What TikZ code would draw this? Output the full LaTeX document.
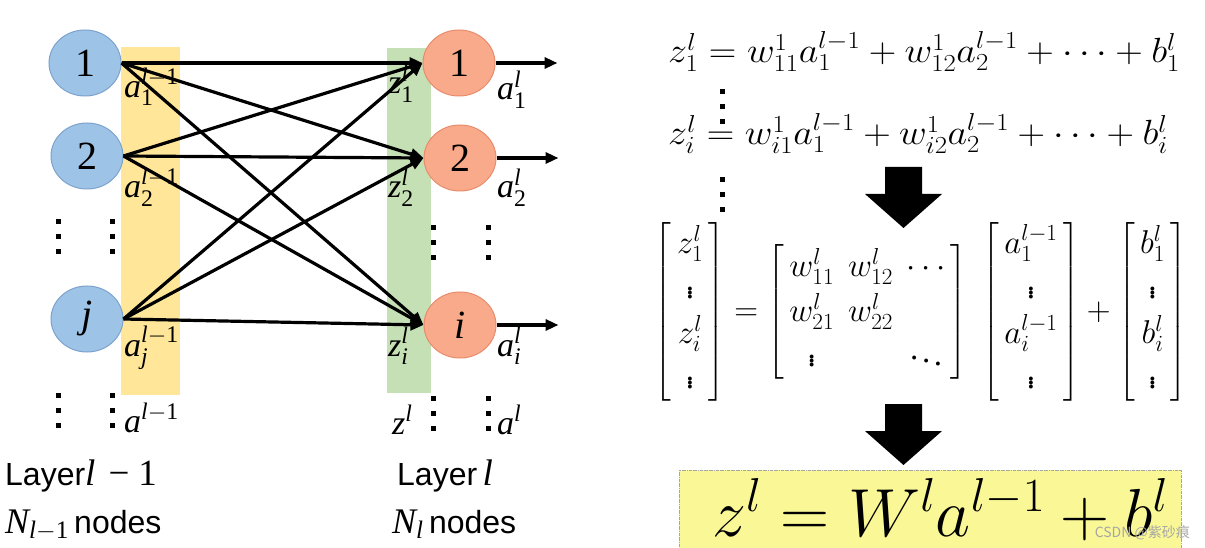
\RequirePackage{fix-cm}
\documentclass[tikz,border=0pt]{standalone}
\usepackage{amsmath}
\usepackage{graphicx}
\usepackage[no-math]{fontspec}
\setmainfont{Liberation Serif}
\setsansfont{Liberation Sans}
\newfontfamily\cjkfont{Noto Sans CJK SC}
\usetikzlibrary{shapes.geometric,arrows.meta,positioning}

\definecolor{bluefill}{RGB}{157,195,230}
\definecolor{blueedge}{RGB}{125,162,205}
\definecolor{orangefill}{RGB}{248,170,138}
\definecolor{orangeedge}{RGB}{232,140,108}
\definecolor{bandyellow}{RGB}{255,230,153}
\definecolor{bandgreen}{RGB}{197,224,180}
\definecolor{boxyellow}{RGB}{250,248,150}

\newcommand{\tv}[3]{$\textit{#1}^{\textit{l}#3}_{#2}$}
\newcommand{\wide}[1]{\scalebox{1.09}[1]{#1}}
\newcommand{\bvec}[1]{\left[\,\begin{matrix}#1\end{matrix}\,\right]}

\begin{document}
\begin{tikzpicture}[x=1pt,y=-1pt,
    inbox/.style={ellipse,draw=blueedge,fill=bluefill,line width=1pt,
      minimum width=72pt,minimum height=66pt,inner sep=0pt,
      font=\fontsize{40}{40}\selectfont},
    outbox/.style={inbox,draw=orangeedge,fill=orangefill},
    wire/.style={line width=3.2pt,-{Triangle[length=13pt,width=11pt]}},
    lbl/.style={anchor=base west,inner sep=0pt,font=\fontsize{34}{34}\selectfont},
    layer/.style={anchor=base west,inner sep=0pt,font=\sffamily\fontsize{32}{32}\selectfont},
    eq/.style={anchor=base west,inner sep=0pt,font=\fontsize{35}{42}\selectfont}]
  \useasboundingbox (0,0) rectangle (1205,548);

  \fill[bandyellow] (121,47) rectangle (180,395);
  \fill[bandgreen] (387,48) rectangle (431,393);

  \node[inbox] (p1) at (85,63) {1};
  \node[inbox] (p2) at (87,156) {2};
  \node[inbox] (pj) at (87,319) {\textit{j}};
  \node[outbox] (c1) at (459,63) {1};
  \node[outbox] (c2) at (460,158) {2};
  \node[outbox] (ci) at (460,325) {\textit{i}};

  \foreach \s in {p1,p2,pj}
    \foreach \t in {c1,c2,ci}
      \draw[wire] (\s.east) -- (\t.west);

  \foreach \t/\o in {c1/o1,c2/o2,ci/oi} {
    \coordinate (\o) at ([xshift=62pt]\t.east);
    \draw[wire] (\t.east) -- (\o);
  }

  \node[lbl] (a1) at (124,98) {\tv{a}{\textrm{1}}{-\textrm{1}}};
  \node[lbl] (a2) at (124,198) {\tv{a}{\textrm{2}}{-\textrm{1}}};
  \node[lbl] (aj) at (124,356) {\tv{a}{\textit{j}}{-\textrm{1}}};
  \node[lbl] (aa) at (124,432) {\tv{a}{}{-\textrm{1}}};
  \node[lbl] (z1) at (388,94) {\tv{z}{\textrm{1}}{}};
  \node[lbl] (z2) at (388,198) {\tv{z}{\textrm{2}}{}};
  \node[lbl] (zi) at (388,356) {\tv{z}{\textit{i}}{}};
  \node[lbl] (zz) at (392,434) {\tv{z}{}{}};
  \node[lbl] (b1) at (497,100) {\tv{a}{\textrm{1}}{}};
  \node[lbl] (b2) at (497,198) {\tv{a}{\textrm{2}}{}};
  \node[lbl] (bi) at (497,356) {\tv{a}{\textit{i}}{}};
  \node[lbl] (bb) at (497,434) {\tv{a}{}{}};

  \foreach \x/\y in {58/222,112/222,58/395,112/395,433/228,488/228,433/398,488/398,722/92,722/180}
    \foreach \k in {0,1,2}
      \fill (\x-2.5,\y+15*\k-2.5) rectangle +(5,5);

  \node[layer] (lprev) at (5,485)
    {Layer{\rmfamily\fontsize{37}{37}\selectfont\textit{l}\hspace{13pt}−\hspace{9pt}1}};
  \node[layer] (nprev) at (5,533)
    {{\rmfamily\fontsize{36}{36}\selectfont$\textit{N}_{\textit{l}-\textrm{1}}$}\,nodes};
  \node[layer] (lcur) at (397,485)
    {Layer\,{\rmfamily\fontsize{37}{37}\selectfont\textit{l}}};
  \node[layer] (ncur) at (392,533)
    {{\rmfamily\fontsize{36}{36}\selectfont$\textit{N}_{\textit{l}}$}\,nodes};

  \node[eq] (row1) at (668,63)
    {\wide{$z_1^l = w_{11}^1 a_1^{l-1} + w_{12}^1 a_2^{l-1} + \cdots + b_1^l$}};
  \node[eq] (rowi) at (668,145)
    {\wide{$z_i^l = w_{i1}^1 a_1^{l-1} + w_{i2}^1 a_2^{l-1} + \cdots + b_i^l$}};

  \foreach \t in {167,404}
    \fill (885,\t) -- (922,\t) -- (922,\t+27) -- (942,\t+27) -- (903.5,\t+61)
      -- (865,\t+27) -- (885,\t+27) -- cycle;

  \node[eq,anchor=center,font=\fontsize{33}{45}\selectfont] (mat) at (921,312)
    {\setlength{\arraycolsep}{7pt}$\bvec{z_1^l\\ \vdots\\ z_i^l\\ \vdots}
      = \bvec{w_{11}^l & w_{12}^l & \cdots\\ w_{21}^l & w_{22}^l & \\ \vdots & & \ddots}
      \;\bvec{a_1^{l-1}\\ \vdots\\ a_i^{l-1}\\ \vdots}
      + \bvec{b_1^l\\ \vdots\\ b_i^l\\ \vdots}$};

  \fill[boxyellow] (679,470) rectangle (1181,552);
  \draw[gray!70,densely dash dot] (679,552) |- (1181,470) -- (1181,552);
  \node[anchor=base west,inner sep=0pt,font=\fontsize{68}{68}\selectfont] (res) at (712,536)
    {$z^l = W^l a^{l-1} + b^l$};
  \node[anchor=base east,inner sep=0pt,text=gray!70,font=\cjkfont\fontsize{14}{14}\selectfont] (mark) at (1190,537)
    {CSDN @紫砂痕};
\end{tikzpicture}
\end{document}
